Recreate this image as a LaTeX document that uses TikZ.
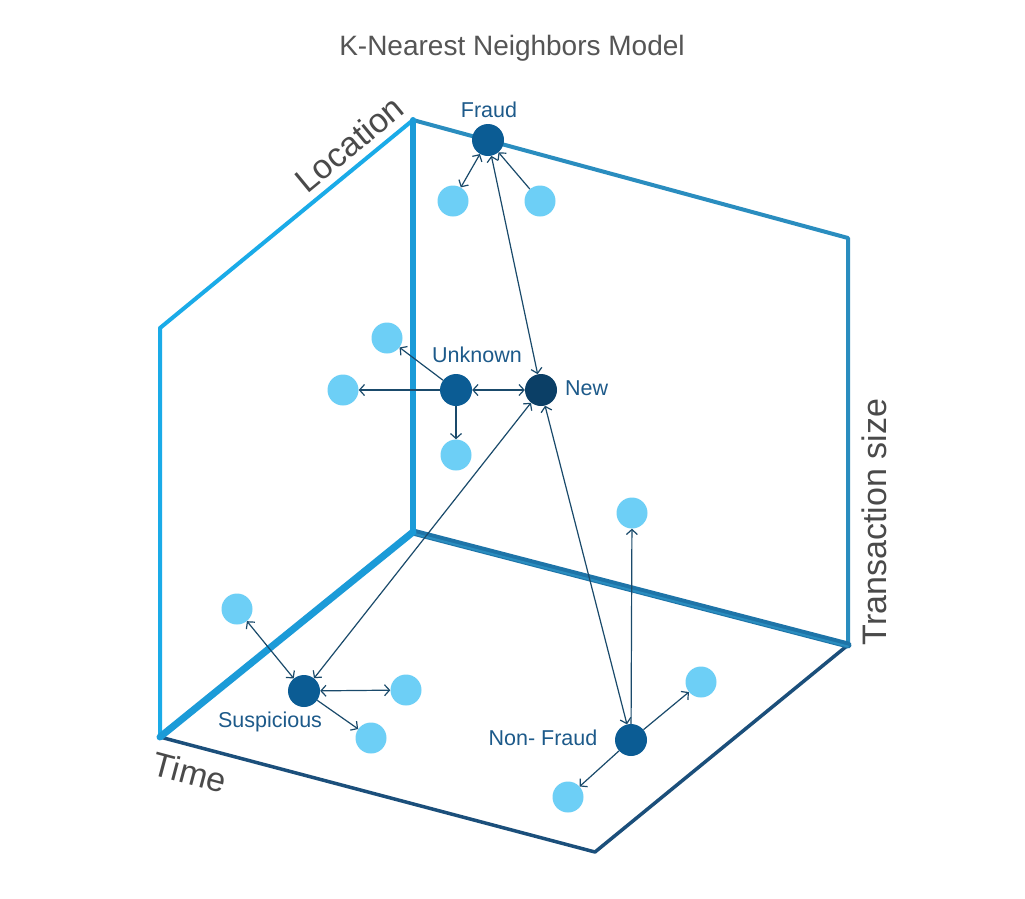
\documentclass[tikz,border=0pt]{standalone}
\usepackage{fontspec}
\setmainfont{Liberation Sans}
\usetikzlibrary{arrows.meta}
\definecolor{lightdot}{HTML}{6DCFF6}
\definecolor{darkdot}{HTML}{0B5C94}
\definecolor{newdot}{HTML}{0B3F66}
\definecolor{lblblue}{HTML}{1D5A8A}
\definecolor{arrowc}{HTML}{1A4A6B}
\definecolor{brightedge}{HTML}{1AABE8}
\definecolor{midedge}{HTML}{1B9BD8}
\definecolor{topedge}{HTML}{2A8DBF}
\definecolor{backedge}{HTML}{1E74A8}
\definecolor{frontedge}{HTML}{1B4F7B}
\definecolor{axisgray}{HTML}{4A4A4A}
\definecolor{titlegray}{HTML}{555555}
\tikzset{
  lightpt/.style={circle,fill=lightdot,minimum size=31pt,inner sep=0pt},
  darkpt/.style={circle,fill=darkdot,minimum size=32pt,inner sep=0pt},
  newpt/.style={circle,fill=newdot,minimum size=32pt,inner sep=0pt},
  ptlabel/.style={text=lblblue,font=\fontsize{21.5}{25}\selectfont,inner sep=0pt},
  axislabel/.style={text=axisgray,font=\fontsize{34}{40}\selectfont,inner sep=0pt},
  link/.style={draw=arrowc,line width=1.2pt},
  one/.style={link,-{Straight Barb[length=5pt,width=11pt]}},
  both/.style={link,{Straight Barb[length=5pt,width=11pt]}-{Straight Barb[length=5pt,width=11pt]}},
  edge/.style={line join=round,line cap=round}
}
\begin{document}
\begin{tikzpicture}[x=1pt,y=-1pt]
\useasboundingbox[fill=white] (0,0) rectangle (1025,898);
% cube corners
\coordinate (lt) at (160,328);
\coordinate (lb) at (160,737);
\coordinate (ct) at (413,120);
\coordinate (cb) at (413,532);
\coordinate (rt) at (848,238);
\coordinate (rb) at (848,645);
\coordinate (fb) at (595,852);
% edges
\draw[edge,brightedge,line width=4pt] (lb) -- (lt) -- (ct);
\draw[edge,topedge,line width=4pt] (ct) -- (rt) -- (rb);
\draw[edge,frontedge,line width=3.5pt] (lb) -- (fb) -- (rb);
\draw[edge,backedge,line width=7pt] (cb) -- (rb);
\draw[edge,topedge,line width=2pt] ([yshift=-1.5pt]cb) -- ([yshift=-1.5pt]rb);
\draw[edge,midedge,line width=7pt] (lb) -- (cb);
\draw[edge,midedge,line width=6pt] (cb) -- (ct);
% title
\node[text=titlegray,font=\fontsize{28}{32}\selectfont,inner sep=0pt] (title) at (512,48) {K-Nearest Neighbors Model};
% axis labels
\node[axislabel,rotate=39.5] (loc) at (349,144) {Location};
\node[axislabel,rotate=90] (tsz) at (874,522) {Transaction size};
\node[axislabel,rotate=-15] (time) at (190,772) {Time};
% points
\node[darkpt] (fraud) at (488,140) {};
\node[lightpt] (f1) at (453,201) {};
\node[lightpt] (f2) at (540,201) {};
\node[darkpt] (unk) at (456,390) {};
\node[newpt] (new) at (541,390) {};
\node[lightpt] (u1) at (387,338) {};
\node[lightpt] (u2) at (343,390) {};
\node[lightpt] (u3) at (456,455) {};
\node[darkpt] (sus) at (304,691) {};
\node[lightpt] (s1) at (237,609) {};
\node[lightpt] (s2) at (406,690) {};
\node[lightpt] (s3) at (371,738) {};
\node[darkpt] (nf) at (631,740) {};
\node[lightpt] (n1) at (632,513) {};
\node[lightpt] (n2) at (701,682) {};
\node[lightpt] (n3) at (568,797) {};
% labels
\node[ptlabel] (lfraud) at (489,110) {Fraud};
\node[ptlabel] (lunk) at (477,355) {Unknown};
\node[ptlabel,anchor=west] (lnew) at (565,388) {New};
\node[ptlabel] (lsus) at (270,722) {Suspicious};
\node[ptlabel] (lnf) at (543,738) {Non- Fraud};
% links
\draw[both] (fraud) -- (f1);
\draw[one] (f2) -- (fraud);
\draw[both] (fraud) -- (new);
\draw[one] (unk) -- (u1);
\draw[one] (unk) -- (u2);
\draw[one] (unk) -- (u3);
\draw[both] (unk) -- (new);
\draw[both] (new) -- (sus);
\draw[both] (new) -- (nf);
\draw[both] (sus) -- (s1);
\draw[both] (sus) -- (s2);
\draw[one] (sus) -- (s3);
\draw[one] (nf) -- (n1);
\draw[one] (nf) -- (n2);
\draw[one] (nf) -- (n3);
\end{tikzpicture}
\end{document}
